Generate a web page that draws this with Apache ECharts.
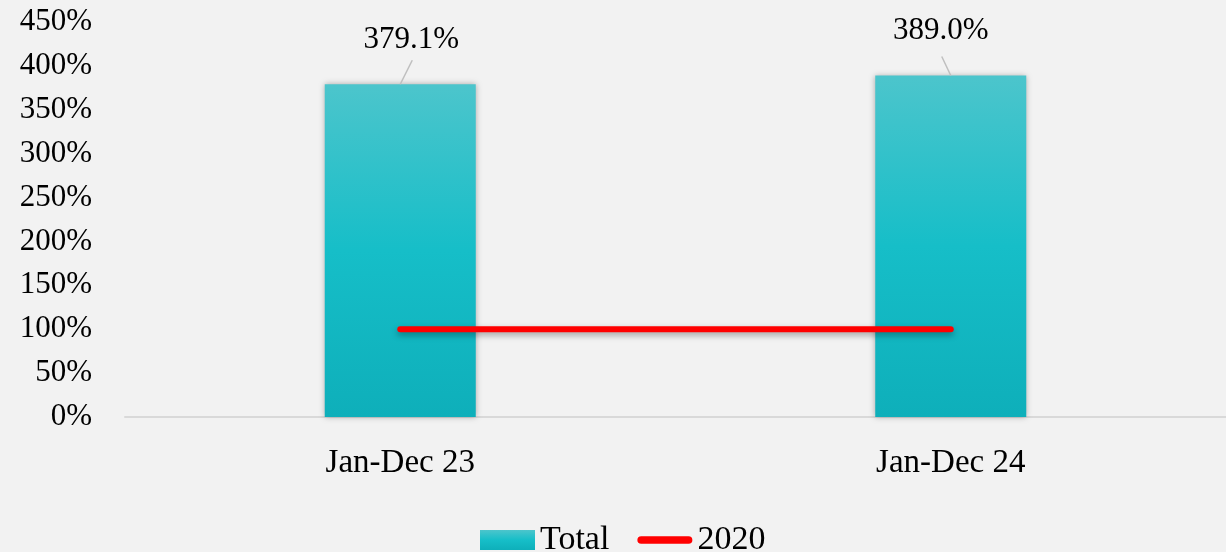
<!DOCTYPE html>
<html>
<head>
<meta charset="utf-8">
<script src="https://cdn.jsdelivr.net/npm/echarts@6/dist/echarts.min.js"></script>
<style>
  html, body { margin: 0; padding: 0; background: #f2f2f2; }
  #main { width: 1226px; height: 552px; }
</style>
</head>
<body>
<div id="main"></div>
<script>
// 数据
var categories = ['Jan-Dec 23', 'Jan-Dec 24'];
var totalValues = [379.1, 389.0];
var baseValues = [100, 100];
var yTicks = { min: 0, max: 450, interval: 50 };

// 标签偏移（像素）
var labelOffsets = [[11, -24], [-10, -24]];
var leaderOffsets = [[12, -24], [-9, -19]];

var FONT = '"Liberation Serif", "DejaVu Serif", serif';

var chartDom = document.getElementById('main');
var myChart = echarts.init(chartDom);
var option;

option = {
  backgroundColor: '#f2f2f2',
  animation: false,
  textStyle: { fontFamily: FONT },
  grid: { left: 125, right: 0, top: 22, bottom: 135 },
  legend: {
    bottom: -10,
    left: 475,
    itemGap: 28,
    itemWidth: 55,
    itemHeight: 20,
    textStyle: { fontFamily: FONT, fontSize: 34, color: '#000' },
    data: [
      { name: 'Total', icon: 'rect' },
      {
        name: '2020',
        icon: 'path://M4,0 L54,0 A4,4 0 0 1 54,8 L4,8 A4,4 0 0 1 4,0 Z',
        itemStyle: { color: '#ff0000' }
      }
    ]
  },
  xAxis: {
    type: 'category',
    data: categories,
    axisLine: { lineStyle: { color: '#d9d9d9', width: 2 } },
    axisTick: { show: false },
    axisLabel: { color: '#000', fontFamily: FONT, fontSize: 33, margin: 30 }
  },
  yAxis: {
    type: 'value',
    min: yTicks.min,
    max: yTicks.max,
    interval: yTicks.interval,
    axisLine: { show: false },
    axisTick: { show: false },
    splitLine: { show: false },
    axisLabel: {
      color: '#000', fontFamily: FONT, fontSize: 31, margin: 33,
      formatter: '{value}%'
    }
  },
  series: [
    {
      name: 'Total',
      type: 'bar',
      barWidth: 151,
      data: totalValues,
      itemStyle: {
        color: new echarts.graphic.LinearGradient(0, 0, 0, 1, [
          { offset: 0, color: '#4cc5cc' },
          { offset: 0.5, color: '#16bec8' },
          { offset: 1, color: '#0eafba' }
        ]),
        shadowColor: 'rgba(0,0,0,0.3)',
        shadowBlur: 6
      },
      label: {
        show: true,
        position: 'top',
        color: '#000',
        fontFamily: FONT,
        fontSize: 31,
        formatter: function (p) { return p.value.toFixed(1) + '%'; }
      },
      labelLayout: function (params) {
        var o = labelOffsets[params.dataIndex];
        return { dx: o[0], dy: o[1] };
      }
    },
    {
      // 数据标签引导线
      type: 'custom',
      silent: true,
      z: 3,
      data: totalValues.map(function (v, i) { return [i, v]; }),
      renderItem: function (params, api) {
        var p = api.coord([api.value(0), api.value(1)]);
        var o = leaderOffsets[params.dataIndex];
        return {
          type: 'line',
          shape: { x1: p[0], y1: p[1], x2: p[0] + o[0], y2: p[1] + o[1] },
          style: { stroke: '#bfbfbf', lineWidth: 1.5 }
        };
      }
    },
    {
      name: '2020',
      type: 'line',
      data: baseValues,
      symbol: 'none',
      z: 5,
      lineStyle: {
        color: '#ff0000',
        width: 6,
        cap: 'round',
        shadowColor: 'rgba(0,0,0,0.35)',
        shadowBlur: 6,
        shadowOffsetY: 3
      },
      itemStyle: { color: '#ff0000' }
    }
  ]
};

option && myChart.setOption(option);
</script>
</body>
</html>
